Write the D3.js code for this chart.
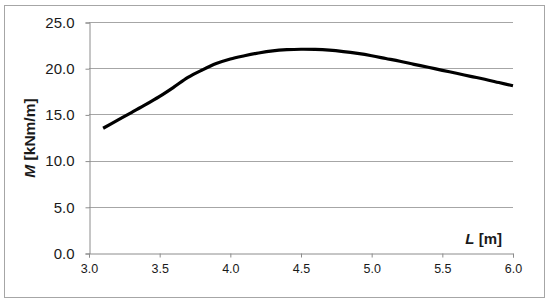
<!DOCTYPE html>
<html>
<head>
<meta charset="utf-8">
<script src="https://cdn.jsdelivr.net/npm/d3@7"></script>
<style>
  body { margin: 0; background: #fff; }
  text { font-family: "Liberation Sans", Arial, sans-serif; fill: #1a1a1a; }
</style>
</head>
<body>
<script>
// span L [m] and moment M [kNm/m]
var spans = [3.1, 3.2, 3.3, 3.4, 3.5, 3.6, 3.7, 3.8, 3.9, 4.0,
             4.1, 4.2, 4.3, 4.4, 4.5, 4.6, 4.7, 4.8, 4.9, 5.0,
             5.1, 5.2, 5.3, 5.4, 5.5, 5.6, 5.7, 5.8, 5.9, 6.0];
var moments = [13.5, 14.35, 15.2, 16.05, 16.95, 17.95, 19.0, 19.8, 20.5, 21.0,
               21.35, 21.65, 21.88, 22.0, 22.05, 22.03, 21.95, 21.8, 21.6, 21.35,
               21.05, 20.75, 20.42, 20.1, 19.77, 19.45, 19.12, 18.8, 18.45, 18.1];
var xTicks = [3.0, 3.5, 4.0, 4.5, 5.0, 5.5, 6.0];
var yTicks = [0, 5, 10, 15, 20, 25];

var width = 550, height = 303;

var svg = d3.select("body").append("svg")
    .attr("width", width)
    .attr("height", height);

// outer frame
svg.append("rect")
    .attr("x", 4.5).attr("y", 5.5)
    .attr("width", 540).attr("height", 292)
    .attr("fill", "none")
    .attr("stroke", "#a6a6a6")
    .attr("stroke-width", 1);

var x = d3.scaleLinear().domain([3, 6]).range([89, 513]);
var y = d3.scaleLinear().domain([0, 25]).range([253, 22]);

// gridlines
svg.selectAll("line.grid")
    .data(yTicks.filter(function(d) { return d > 0; }))
    .enter().append("line")
    .attr("class", "grid")
    .attr("x1", x(3)).attr("x2", x(6))
    .attr("y1", function(d) { return Math.round(y(d)) + 0.5; })
    .attr("y2", function(d) { return Math.round(y(d)) + 0.5; })
    .attr("stroke", "#a6a6a6");

var yAxis = svg.append("g")
    .attr("transform", "translate(" + (x(3) + 0.5) + ",0.5)")
    .call(d3.axisLeft(y).tickValues(yTicks).tickSize(4).tickPadding(11)
      .tickFormat(d3.format(".1f")));

var xAxis = svg.append("g")
    .attr("transform", "translate(0," + (Math.round(y(0)) + 0.5) + ")")
    .call(d3.axisBottom(x).tickValues(xTicks).tickSize(4).tickPadding(7)
      .tickFormat(d3.format(".1f")));

svg.selectAll(".domain, .tick line").attr("stroke", "#8c8c8c");
yAxis.selectAll("text").style("font-size", "15px");
xAxis.selectAll("text").style("font-size", "12.5px");
svg.selectAll(".tick text").attr("fill", "#1a1a1a");

// curve
var line = d3.line()
    .x(function(d, i) { return x(spans[i]); })
    .y(function(d) { return y(d); })
    .curve(d3.curveCatmullRom.alpha(0.5));

svg.append("path")
    .datum(moments)
    .attr("d", line)
    .attr("fill", "none")
    .attr("stroke", "#000")
    .attr("stroke-width", 3.2)
    .attr("stroke-linecap", "butt");

// axis titles
var yt = svg.append("text")
    .attr("transform", "translate(35,138) rotate(-90)")
    .attr("text-anchor", "middle")
    .style("font-size", "15.5px")
    .style("font-weight", "bold");
yt.append("tspan").style("font-style", "italic").text("M");
yt.append("tspan").text(" [kNm/m]");

var xt = svg.append("text")
    .attr("x", 502).attr("y", 244)
    .attr("text-anchor", "end")
    .style("font-size", "15px")
    .style("font-weight", "bold");
xt.append("tspan").style("font-style", "italic").text("L");
xt.append("tspan").text(" [m]");
</script>
</body>
</html>
